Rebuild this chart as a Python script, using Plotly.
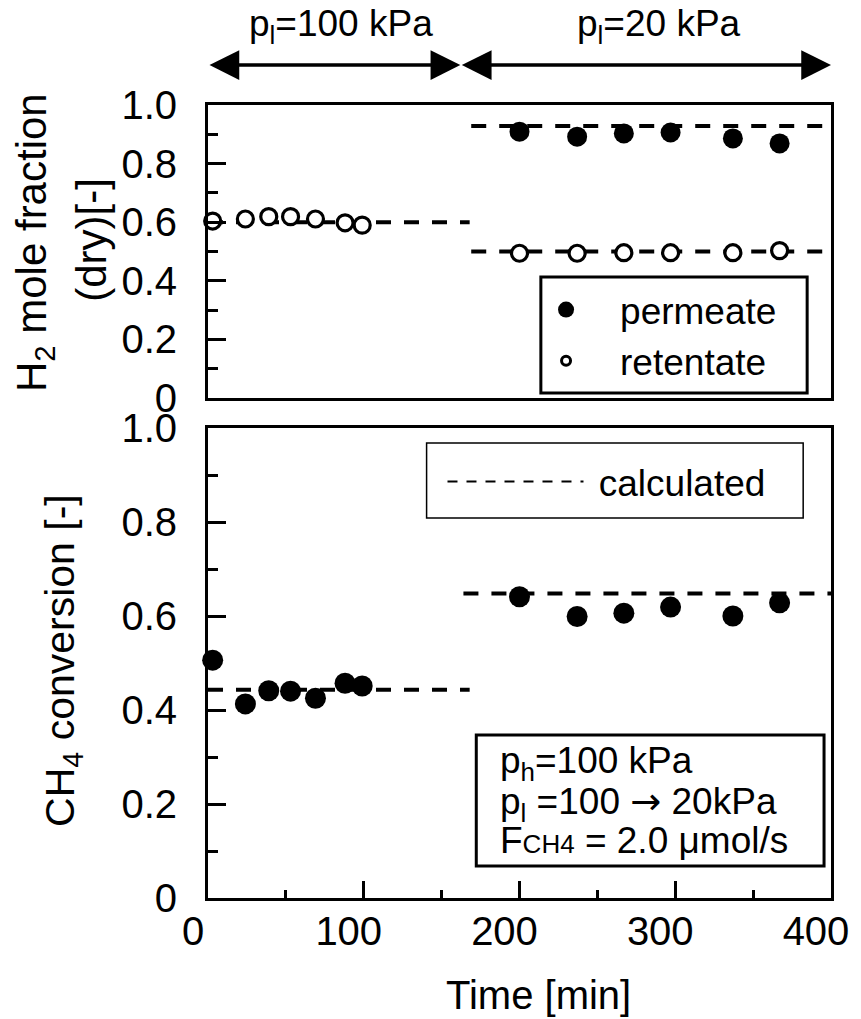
import plotly.graph_objects as go

# ---------------- data ----------------
t_100 = [3, 24, 39, 53, 69, 88, 99]          # time [min], p_l = 100 kPa
t_20 = [200, 237, 267, 297, 337, 367]        # time [min], p_l = 20 kPa

ret_100 = [0.604, 0.611, 0.619, 0.619, 0.611, 0.598, 0.590]   # H2 mole fraction, retentate
perm_20 = [0.909, 0.892, 0.903, 0.906, 0.886, 0.869]          # H2 mole fraction, permeate
ret_20 = [0.494, 0.494, 0.496, 0.496, 0.496, 0.503]           # H2 mole fraction, retentate

conv_100 = [0.506, 0.413, 0.441, 0.440, 0.425, 0.457, 0.451]  # CH4 conversion
conv_20 = [0.641, 0.599, 0.606, 0.619, 0.600, 0.628]          # CH4 conversion

# calculated values (dashed lines)
calc_t_100 = [0, 168]
calc_t_20 = [169, 400]
calc_t_conv_20 = [164, 400]
calc_ret_100 = [0.60, 0.60]
calc_perm_20 = [0.928, 0.928]
calc_ret_20 = [0.50, 0.50]
calc_conv_100 = [0.443, 0.443]
calc_conv_20 = [0.648, 0.648]

x_ticks = [0, 100, 200, 300, 400]
y_ticks = [0, 0.2, 0.4, 0.6, 0.8, 1.0]
y_ticktext = ["0", "0.2", "0.4", "0.6", "0.8", "1.0"]

# ---------------- layout geometry ----------------
W, H = 861, 1019
ML, MR, MT, MB = 208, 26, 105, 121
PW, PH = W - ML - MR, H - MT - MB


def px_x(px):
    return (px - ML) / PW


def px_y(py):
    return (H - MB - py) / PH


FONT = "Liberation Sans, Arial, sans-serif"
BLACK = "black"
DASH = "15px,13px"

fig = go.Figure()

# ---- top panel: H2 mole fraction (x2 / y2) ----
for xs, ys in [(calc_t_100, calc_ret_100), (calc_t_20, calc_perm_20), (calc_t_20, calc_ret_20)]:
    fig.add_trace(go.Scatter(x=xs, y=ys, mode="lines", xaxis="x2", yaxis="y2",
                             line=dict(color=BLACK, width=4, dash=DASH), showlegend=False))

open_marker = dict(symbol="circle", size=16, color="white", line=dict(color=BLACK, width=3.2))
filled_marker = dict(symbol="circle", size=20, color=BLACK, line=dict(width=0))

fig.add_trace(go.Scatter(x=t_100, y=ret_100, mode="markers", xaxis="x2", yaxis="y2",
                         marker=open_marker, cliponaxis=False, showlegend=False))
fig.add_trace(go.Scatter(x=t_20, y=perm_20, mode="markers", xaxis="x2", yaxis="y2",
                         marker=filled_marker, cliponaxis=False, showlegend=False))
fig.add_trace(go.Scatter(x=t_20, y=ret_20, mode="markers", xaxis="x2", yaxis="y2",
                         marker=open_marker, cliponaxis=False, showlegend=False))

# legend entries for the top panel
fig.add_trace(go.Scatter(x=[None], y=[None], mode="markers", xaxis="x2", yaxis="y2",
                         name="permeate", legend="legend",
                         marker=dict(symbol="circle", size=18, color=BLACK)))
fig.add_trace(go.Scatter(x=[None], y=[None], mode="markers", xaxis="x2", yaxis="y2",
                         name="retentate", legend="legend",
                         marker=dict(symbol="circle", size=9, color="white",
                                     line=dict(color=BLACK, width=3))))

# ---- bottom panel: CH4 conversion (x / y) ----
for xs, ys in [(calc_t_100, calc_conv_100), (calc_t_conv_20, calc_conv_20)]:
    fig.add_trace(go.Scatter(x=xs, y=ys, mode="lines", xaxis="x", yaxis="y",
                             line=dict(color=BLACK, width=4, dash=DASH), showlegend=False))

conv_marker = dict(symbol="circle", size=21, color=BLACK, line=dict(width=0))
fig.add_trace(go.Scatter(x=t_100, y=conv_100, mode="markers", marker=conv_marker,
                         cliponaxis=False, showlegend=False))
fig.add_trace(go.Scatter(x=t_20, y=conv_20, mode="markers", marker=conv_marker,
                         cliponaxis=False, showlegend=False))

fig.add_trace(go.Scatter(x=[None], y=[None], mode="lines", name="\u00a0calculated", legend="legend2",
                         line=dict(color=BLACK, width=2, dash="10px,9px")))

# ---------------- axes ----------------
common_y = dict(range=[0, 1], tickmode="array", tickvals=y_ticks, ticktext=y_ticktext,
                ticks="inside", ticklen=18, tickwidth=3, tickcolor=BLACK,
                minor=dict(ticks="inside", ticklen=10, tickwidth=3, tickcolor=BLACK, dtick=0.1, tick0=0),
                showline=True, linewidth=3, linecolor=BLACK, mirror=True,
                showgrid=False, zeroline=False, tickfont=dict(size=40, family=FONT, color=BLACK),
                ticklabelstandoff=20)

fig.update_layout(
    width=W, height=H,
    margin=dict(l=ML, r=MR, t=MT, b=MB, pad=0),
    paper_bgcolor="white", plot_bgcolor="white",
    font=dict(family=FONT, color=BLACK, size=37),
    xaxis=dict(domain=[0, 1], anchor="y", range=[0, 400], tickmode="array", tickvals=x_ticks,
               ticks="inside", ticklen=17, tickwidth=3, tickcolor=BLACK,
               minor=dict(ticks="inside", ticklen=8, tickwidth=3, tickcolor=BLACK, dtick=50, tick0=0),
               showline=True, linewidth=3, linecolor=BLACK, mirror=True,
               showgrid=False, zeroline=False, tickfont=dict(size=40, family=FONT, color=BLACK),
               ticklabelshift=-15, ticklabelstandoff=-4),
    yaxis=dict(domain=[0, px_y(428)], anchor="x", **common_y),
    xaxis2=dict(domain=[0, 1], anchor="y2", matches="x", range=[0, 400], showticklabels=False,
                ticks="", showline=True, linewidth=3, linecolor=BLACK, mirror=True,
                showgrid=False, zeroline=False),
    yaxis2=dict(domain=[px_y(398), 1], anchor="x2", **common_y),
    legend=dict(x=px_x(514), y=px_y(279), xanchor="left", yanchor="top",
                bgcolor="rgba(0,0,0,0)", borderwidth=0, itemwidth=98,
                font=dict(size=37, family=FONT, color=BLACK)),
    legend2=dict(x=px_x(444), y=px_y(451), xanchor="left", yanchor="top",
                 bgcolor="rgba(0,0,0,0)", borderwidth=0, itemwidth=136,
                 font=dict(size=37, family=FONT, color=BLACK)),
)

# ---------------- boxes ----------------
fig.add_shape(type="rect", xref="paper", yref="paper",
              x0=px_x(543), x1=px_x(811), y0=px_y(393), y1=px_y(277),
              line=dict(color=BLACK, width=3), fillcolor="white", layer="below")
fig.add_shape(type="rect", xref="paper", yref="paper",
              x0=px_x(428), x1=px_x(807), y0=px_y(518), y1=px_y(443),
              line=dict(color=BLACK, width=1.5), fillcolor="rgba(0,0,0,0)")
fig.add_shape(type="rect", xref="paper", yref="paper",
              x0=px_x(478), x1=px_x(828), y0=px_y(866), y1=px_y(735),
              line=dict(color=BLACK, width=3), fillcolor="white", layer="below")

# ---------------- text ----------------
ann = []
ann.append(dict(text="H<sub>2</sub> mole fraction", xref="paper", yref="paper",
                x=px_x(33), y=px_y(243), xanchor="center", yanchor="middle", textangle=-90,
                showarrow=False, font=dict(size=42)))
ann.append(dict(text="(dry)[-]", xref="paper", yref="paper",
                x=px_x(90), y=px_y(240), xanchor="center", yanchor="middle", textangle=-90,
                showarrow=False, font=dict(size=42)))
ann.append(dict(text="CH<sub>4</sub> conversion [-]", xref="paper", yref="paper",
                x=px_x(62), y=px_y(660), xanchor="center", yanchor="middle", textangle=-90,
                showarrow=False, font=dict(size=41)))
ann.append(dict(text="Time [min]", xref="paper", yref="paper",
                x=px_x(541), y=px_y(995), xanchor="center", yanchor="middle",
                showarrow=False, font=dict(size=40)))
ann.append(dict(text="p<sub>l</sub>=100 kPa", xref="paper", yref="paper",
                x=px_x(342), y=px_y(26), xanchor="center", yanchor="middle",
                showarrow=False, font=dict(size=37)))
ann.append(dict(text="p<sub>l</sub>=20 kPa", xref="paper", yref="paper",
                x=px_x(662), y=px_y(26), xanchor="center", yanchor="middle",
                showarrow=False, font=dict(size=37)))
for x_from, x_to in [(0, 162), (162, 400)]:
    ann.append(dict(text="", xref="x", yref="paper", x=x_to, y=px_y(65),
                    axref="x", ax=x_from, ayref="pixel", ay=0,
                    showarrow=True, arrowhead=2, arrowside="end+start", arrowsize=1.7,
                    arrowwidth=3.5, arrowcolor=BLACK, standoff=0, startstandoff=0))
info_lines = ["p<sub>h</sub>=100 kPa",
              "p<sub>l</sub> =100 <span style='font-family:DejaVu Sans'>\u2192</span> 20kPa",
              "F<span style='font-size:26px'>CH4</span> = 2.0 \u03bcmol/s"]
for txt, py in zip(info_lines, [763, 803, 840]):
    ann.append(dict(text=txt, xref="paper", yref="paper", x=px_x(500), y=px_y(py),
                    xanchor="left", yanchor="middle", showarrow=False, font=dict(size=37)))
fig.update_layout(annotations=ann)

fig.write_html("out.html")
